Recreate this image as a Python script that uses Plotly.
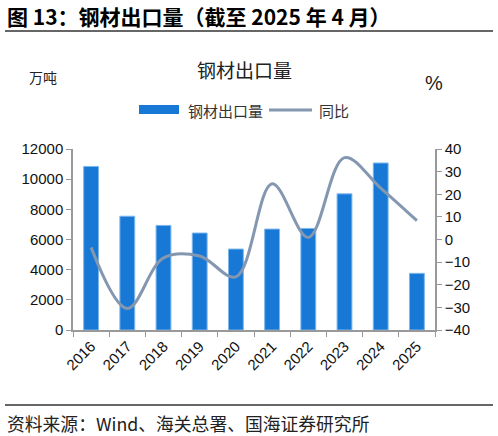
import plotly.graph_objects as go

years = ["2016", "2017", "2018", "2019", "2020", "2021", "2022", "2023", "2024", "2025"]
exports = [10843, 7543, 6934, 6429, 5367, 6690, 6732, 9026, 11072, 3757]
yoy = [-3.5, -30.5, -8.1, -7.3, -16.5, 24.6, 0.9, 36.2, 22.7, 8.3]
left_ticks = [0, 2000, 4000, 6000, 8000, 10000, 12000]
right_ticks = [-40, -30, -20, -10, 0, 10, 20, 30, 40]

FONT = "Liberation Sans, Noto Sans CJK SC, Arial, sans-serif"
CJK = "Noto Sans CJK SC, sans-serif"
BAR = "#1878D6"
LINE = "#8497B0"

# plot area in pixels
L, R, T, B = 73, 435, 149, 330
W, H = R - L, B - T


def px(x):
    return (x - L) / W


def py(y):
    return (B - y) / H


fig = go.Figure()
fig.add_trace(go.Bar(
    x=years, y=exports, name="钢材出口量",
    marker=dict(color=BAR, line=dict(color="#7DB6EC", width=1)),
    yaxis="y",
))
fig.add_trace(go.Scatter(
    x=years, y=yoy, name="同比", mode="lines",
    line=dict(color=LINE, width=3, shape="spline", smoothing=1.0),
    yaxis="y2",
))

axis_common = dict(
    showgrid=False, showline=True, linecolor="#999", linewidth=1.5,
    ticks="outside", ticklen=5, tickcolor="#999",
    tickfont=dict(family=FONT, size=15, color="#111"),
)

fig.update_layout(
    width=498, height=436,
    margin=dict(l=L, r=498 - R, t=T, b=436 - B),
    paper_bgcolor="white", plot_bgcolor="white",
    font=dict(family=FONT, size=13, color="#222"),
    bargap=0.59,
    showlegend=False,
    xaxis=dict(type="category", tickangle=-45, tickson="boundaries", **axis_common),
    yaxis=dict(range=[0, 12000], tickvals=left_ticks, tickformat="d",
               zeroline=False, **axis_common),
    yaxis2=dict(range=[-40, 40], tickvals=right_ticks, overlaying="y", side="right",
                zeroline=False, **axis_common),
)

ann = [
    dict(text="<b>图 13：钢材出口量（截至 2025 年 4 月）</b>", x=5, y=16, xanchor="left",
         font=dict(family=CJK, size=21, color="#000")),
    dict(text="钢材出口量", x=244, y=70, xanchor="center",
         font=dict(family=CJK, size=19, color="#222")),
    dict(text="万吨", x=43, y=77, xanchor="center",
         font=dict(family=CJK, size=14, color="#222")),
    dict(text="%", x=434, y=83, xanchor="center",
         font=dict(family=FONT, size=20, color="#222")),
    dict(text="钢材出口量", x=186, y=110, xanchor="left",
         font=dict(family=CJK, size=15, color="#333")),
    dict(text="同比", x=317, y=110, xanchor="left",
         font=dict(family=CJK, size=15, color="#333")),
    dict(text="资料来源：Wind、海关总署、国海证券研究所", x=5, y=423, xanchor="left",
         font=dict(family=CJK, size=17.8, color="#222")),
]
for a in ann:
    fig.add_annotation(xref="paper", yref="paper", showarrow=False,
                       text=a["text"], xanchor=a["xanchor"], yanchor="middle",
                       x=px(a["x"]), y=py(a["y"]), font=a["font"])

# legend symbols
fig.add_shape(type="rect", xref="paper", yref="paper",
              x0=px(139), x1=px(179), y0=py(105), y1=py(114),
              fillcolor=BAR, line=dict(width=0))
fig.add_shape(type="line", xref="paper", yref="paper",
              x0=px(269), x1=px(312), y0=py(110), y1=py(110),
              line=dict(color=LINE, width=3))

# header / footer rules
for ypx in [31, 405]:
    fig.add_shape(type="line", xref="paper", yref="paper",
                  x0=px(5), x1=px(493), y0=py(ypx), y1=py(ypx),
                  line=dict(color="#333", width=1.3))

fig.write_html("out.html",
               config={"displayModeBar": False},
               post_script="document.body.style.margin='0';document.body.style.padding='0';")
